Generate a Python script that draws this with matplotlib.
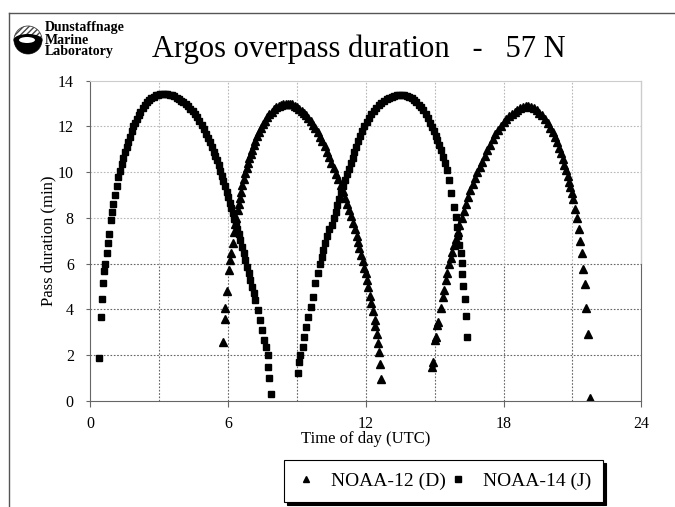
import matplotlib.pyplot as plt
import matplotlib.patches as mpatches
from matplotlib.lines import Line2D

# NOAA-12 (D), primer paso (hora UTC, minutos)
n12_a_x = [5.77, 5.87, 5.87, 5.95, 6.02, 6.09, 6.12, 6.19, 6.25, 6.31,
           6.36, 6.41, 6.46, 6.5, 6.56, 6.62, 6.68, 6.74, 6.8, 6.86,
           6.92, 6.98, 7.04, 7.11, 7.18, 7.25, 7.33, 7.42, 7.51, 7.6,
           7.7, 7.8, 7.9, 8.0, 8.1, 8.2, 8.3, 8.4, 8.5, 8.6,
           8.7, 8.8, 8.9, 9.0, 9.1, 9.2, 9.3, 9.4, 9.5, 9.6,
           9.7, 9.8, 9.9, 10.0, 10.1, 10.2, 10.3, 10.4, 10.5, 10.6,
           10.7, 10.8, 10.9, 11.0, 11.1, 11.2, 11.28, 11.36, 11.44, 11.52,
           11.6, 11.66, 11.72, 11.8, 11.87, 11.94, 11.99, 12.03, 12.09, 12.17,
           12.21, 12.32, 12.39, 12.42, 12.5, 12.52, 12.57, 12.6, 12.67]
n12_a_y = [2.56, 3.58, 4.07, 4.8, 5.72, 6.16, 6.48, 6.89, 7.4, 7.75,
           8.0, 8.35, 8.6, 8.85, 9.14, 9.45, 9.72, 9.97, 10.2, 10.42,
           10.62, 10.8, 10.98, 11.18, 11.38, 11.56, 11.74, 11.93, 12.1, 12.25,
           12.4, 12.53, 12.65, 12.75, 12.83, 12.89, 12.94, 12.97, 12.99, 13.0,
           12.99, 12.96, 12.91, 12.84, 12.76, 12.68, 12.6, 12.5, 12.38, 12.25,
           12.08, 11.92, 11.74, 11.55, 11.35, 11.13, 10.9, 10.66, 10.42, 10.18,
           9.93, 9.68, 9.42, 9.16, 8.88, 8.6, 8.35, 8.08, 7.8, 7.5,
           7.2, 6.95, 6.7, 6.4, 6.1, 5.8, 5.6, 5.28, 4.99, 4.59,
           4.27, 3.93, 3.54, 3.28, 2.93, 2.55, 2.15, 1.62, 0.96]

# NOAA-12 (D), segundo paso
n12_b_x = [14.9, 14.93, 15.01, 15.07, 15.09, 15.15, 15.26, 15.34, 15.41, 15.48,
           15.55, 15.62, 15.7, 15.77, 15.84, 15.92, 16.0, 16.08, 16.17, 16.26,
           16.35, 16.45, 16.55, 16.66, 16.76, 16.86, 16.96, 17.06, 17.17, 17.28,
           17.4, 17.52, 17.64, 17.76, 17.88, 18.0, 18.12, 18.24, 18.36, 18.48,
           18.6, 18.72, 18.84, 18.96, 19.08, 19.2, 19.32, 19.44, 19.56, 19.68,
           19.8, 19.92, 20.03, 20.14, 20.24, 20.33, 20.42, 20.5, 20.58, 20.65,
           20.72, 20.79, 20.86, 20.91, 20.98, 21.04, 21.13, 21.2, 21.28, 21.35,
           21.42, 21.45, 21.54, 21.61, 21.68, 21.76]
n12_b_y = [1.47, 1.72, 2.66, 2.81, 3.32, 3.46, 4.05, 4.55, 4.85, 5.28,
           5.6, 6.0, 6.25, 6.5, 6.8, 7.1, 7.4, 7.7, 8.0, 8.3,
           8.6, 8.92, 9.22, 9.5, 9.76, 10.0, 10.22, 10.45, 10.7, 10.95,
           11.2, 11.45, 11.65, 11.85, 12.02, 12.17, 12.31, 12.44, 12.55, 12.65,
           12.73, 12.8, 12.84, 12.87, 12.87, 12.84, 12.79, 12.71, 12.6, 12.48,
           12.32, 12.14, 11.95, 11.75, 11.52, 11.3, 11.06, 10.82, 10.56, 10.32,
           10.08, 9.82, 9.56, 9.36, 9.1, 8.81, 8.41, 8.0, 7.5, 7.0,
           6.45, 5.79, 5.1, 4.07, 2.91, 0.14]

# NOAA-14 (J), primer paso
n14_a_x = [0.38, 0.46, 0.5, 0.56, 0.6, 0.63, 0.71, 0.76, 0.82, 0.88,
           0.94, 1.0, 1.07, 1.14, 1.22, 1.29, 1.36, 1.43, 1.5, 1.58,
           1.65, 1.72, 1.8, 1.87, 1.94, 2.02, 2.1, 2.18, 2.27, 2.36,
           2.45, 2.55, 2.65, 2.75, 2.85, 2.95, 3.05, 3.15, 3.25, 3.35,
           3.45, 3.55, 3.65, 3.75, 3.85, 3.95, 4.05, 4.15, 4.25, 4.35,
           4.45, 4.55, 4.65, 4.75, 4.85, 4.95, 5.05, 5.14, 5.22, 5.3,
           5.37, 5.44, 5.51, 5.58, 5.65, 5.72, 5.79, 5.86, 5.93, 6.0,
           6.07, 6.14, 6.21, 6.27, 6.33, 6.39, 6.46, 6.53, 6.6, 6.67,
           6.75, 6.82, 6.89, 6.96, 7.04, 7.11, 7.18, 7.28, 7.37, 7.47,
           7.58, 7.66, 7.72, 7.74, 7.79, 7.87]
n14_a_y = [1.86, 3.67, 4.48, 5.15, 5.69, 6.0, 6.45, 6.89, 7.32, 7.9,
           8.25, 8.6, 9.0, 9.4, 9.8, 10.05, 10.35, 10.62, 10.87, 11.1,
           11.33, 11.54, 11.8, 12.0, 12.15, 12.33, 12.5, 12.65, 12.8, 12.94,
           13.06, 13.16, 13.24, 13.3, 13.35, 13.38, 13.4, 13.41, 13.41, 13.4,
           13.38, 13.35, 13.31, 13.26, 13.2, 13.13, 13.05, 12.97, 12.87, 12.77,
           12.66, 12.54, 12.4, 12.22, 12.05, 11.88, 11.68, 11.48, 11.3, 11.1,
           10.9, 10.72, 10.52, 10.3, 10.07, 9.85, 9.62, 9.38, 9.14, 8.9,
           8.67, 8.43, 8.2, 7.97, 7.75, 7.53, 7.3, 7.03, 6.75, 6.46,
           6.16, 5.87, 5.58, 5.28, 4.99, 4.7, 4.41, 3.97, 3.54, 3.1,
           2.66, 2.37, 2.0, 1.5, 0.99, 0.29]

# NOAA-14 (J), segundo paso
n14_b_x = [9.06, 9.1, 9.15, 9.24, 9.29, 9.4, 9.48, 9.59, 9.7, 9.8,
           9.9, 9.99, 10.07, 10.15, 10.23, 10.31, 10.4, 10.52, 10.6, 10.68,
           10.76, 10.84, 10.93, 11.02, 11.1, 11.18, 11.26, 11.34, 11.42, 11.5,
           11.58, 11.67, 11.76, 11.85, 11.94, 12.04, 12.14, 12.24, 12.35, 12.46,
           12.57, 12.68, 12.79, 12.9, 13.01, 13.12, 13.23, 13.34, 13.45, 13.56,
           13.67, 13.78, 13.89, 14.0, 14.1, 14.2, 14.3, 14.4, 14.5, 14.6,
           14.7, 14.8, 14.88, 14.97, 15.05, 15.12, 15.19, 15.26, 15.34, 15.43,
           15.52, 15.62, 15.73, 15.84, 15.92, 15.99, 16.03, 16.06, 16.14, 16.18,
           16.21, 16.24, 16.3, 16.35, 16.41]
n14_b_y = [1.21, 1.72, 2.0, 2.37, 2.81, 3.24, 3.68, 4.12, 4.55, 5.14,
           5.58, 6.0, 6.3, 6.6, 6.9, 7.2, 7.5, 7.7, 8.0, 8.27,
           8.55, 8.82, 9.1, 9.38, 9.65, 9.9, 10.12, 10.38, 10.62, 10.86,
           11.1, 11.34, 11.58, 11.8, 12.0, 12.2, 12.38, 12.54, 12.68, 12.82,
           12.93, 13.03, 13.11, 13.18, 13.24, 13.29, 13.32, 13.35, 13.36, 13.37,
           13.36, 13.33, 13.29, 13.23, 13.15, 13.06, 12.95, 12.83, 12.7, 12.54,
           12.36, 12.16, 11.98, 11.8, 11.6, 11.4, 11.2, 10.95, 10.67, 10.38,
           10.09, 9.65, 9.07, 8.48, 8.05, 7.61, 7.2, 6.81, 6.45, 6.01,
           5.55, 5.02, 4.44, 3.73, 2.81]

x_ticks = [0, 6, 12, 18, 24]
y_ticks = [0, 2, 4, 6, 8, 10, 12, 14]

serif = ['Liberation Serif', 'DejaVu Serif']

fig = plt.figure(figsize=(6.75, 5.07), dpi=100)
ax = fig.add_axes([0.134, 0.209, 0.816, 0.632])

# rejilla: la parte de arriba del grafico original es mas clara
light = '#b8b8b8'
dark = '#666666'
for yv in y_ticks[1:-1]:
    ax.axhline(yv, color=light if yv > 6 else dark, ls=(0, (1.5, 1.5)), lw=0.8, zorder=0)
for xv in [3, 6, 9, 12, 15, 18, 21]:
    ax.plot([xv, xv], [0, 6], color=dark, ls=(0, (1.5, 1.5)), lw=0.8, zorder=0)
    ax.plot([xv, xv], [6, 14], color=light, ls=(0, (1.5, 1.5)), lw=0.8, zorder=0)
ax.plot([24, 24], [6, 14], color='#cccccc', lw=1, clip_on=False, zorder=1)

ax.plot(n12_a_x, n12_a_y, '^', color='black', markersize=5.2, label='NOAA-12 (D)')
ax.plot(n12_b_x, n12_b_y, '^', color='black', markersize=5.2)
ax.plot(n14_a_x, n14_a_y, 's', color='black', markersize=4.6, label='NOAA-14 (J)')
ax.plot(n14_b_x, n14_b_y, 's', color='black', markersize=4.6)

ax.set_xlim(0, 24)
ax.set_ylim(0, 14)
ax.set_xticks(x_ticks)
ax.set_yticks(y_ticks)
ax.tick_params(axis='x', labelsize=11.5, length=4, color=dark, pad=7)
ax.tick_params(axis='y', labelsize=11.5, length=3, color=dark, pad=9)
for lab in ax.get_xticklabels() + ax.get_yticklabels():
    lab.set_fontfamily(serif)
ax.spines['left'].set_color(dark)
ax.spines['bottom'].set_color(dark)
ax.spines['top'].set_color('#cccccc')
ax.spines['right'].set_bounds(0, 6)
ax.spines['right'].set_color(dark)

ax.set_xlabel('Time of day (UTC)', fontsize=12, family=serif, labelpad=-1)
ax.set_ylabel('Pass duration (min)', fontsize=12, family=serif, labelpad=1)

leg = ax.legend(loc='upper left', bbox_to_anchor=(284 / 675, 1 - 460 / 507),
                bbox_transform=fig.transFigure, ncol=2, frameon=True,
                fancybox=False, shadow={'color': 'black', 'alpha': 1.0}, edgecolor='black',
                prop={'family': serif, 'size': 14}, handlelength=1.0, handletextpad=0.8,
                columnspacing=0.1, borderpad=0.62, borderaxespad=0, markerscale=0.8)
leg.get_frame().set_linewidth(0.8)

# marco de la figura
fig.add_artist(Line2D([9 / 675, 1], [1 - 12.5 / 507] * 2, color='#555555', lw=1))
fig.add_artist(Line2D([9 / 675] * 2, [0, 1 - 12.5 / 507], color='#555555', lw=1))

# logo
cx, cy = 28, 507 - 40
fig.add_artist(mpatches.Circle((cx, cy), 14, transform=None, facecolor='white',
                               edgecolor='#444444', lw=0.6, hatch='//////'))
fig.add_artist(mpatches.Wedge((cx, cy), 14, 180, 360, transform=None, facecolor='black'))
fig.add_artist(mpatches.Ellipse((cx, cy), 29, 12, transform=None, facecolor='black'))
fig.add_artist(mpatches.Ellipse((cx - 1, cy), 16, 6, transform=None, facecolor='white'))
for i, word in enumerate(['Dunstaffnage', 'Marine', 'Laboratory']):
    fig.text(45 / 675, 1 - (28 + 12 * i) / 507, word, fontsize=10, fontweight='bold',
             family=serif, va='center')

fig.text(152 / 675, 1 - 49 / 507, 'Argos overpass duration   -   57 N', fontsize=22,
         family=serif, va='center')

fig.savefig('out.png', dpi=100)
